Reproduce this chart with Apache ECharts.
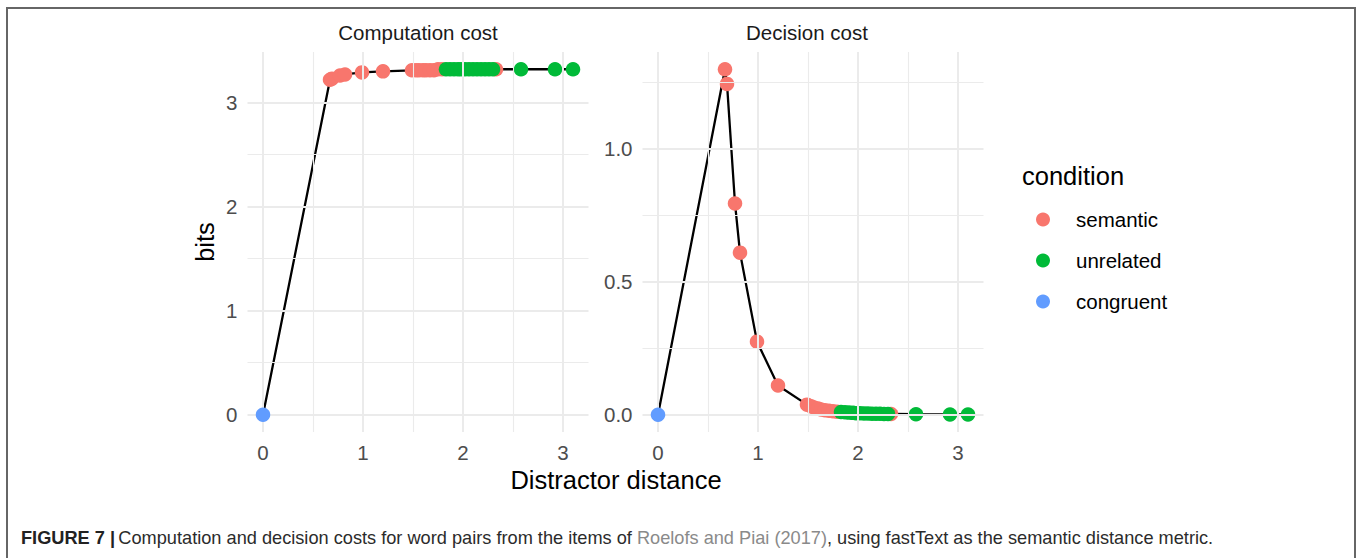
<!DOCTYPE html>
<html>
<head>
<meta charset="utf-8">
<script src="https://cdn.jsdelivr.net/npm/echarts@6.0.0/dist/echarts.min.js"></script>
<style>
  html, body { margin: 0; padding: 0; background: #ffffff; }
  #chart { width: 1358px; height: 558px; }
</style>
</head>
<body>
<div id="chart"></div>
<script>
// Word-pair costs against semantic distractor distance (fastText)
const semanticDist = [0.67, 0.69, 0.77, 0.82, 0.99, 1.20, 1.49, 1.53, 1.56, 1.60, 1.63, 1.67, 1.71, 1.75, 1.79, 2.33];
const semanticComp = [3.22, 3.23, 3.26, 3.27, 3.29, 3.30, 3.31, 3.31, 3.31, 3.31, 3.31, 3.31, 3.31, 3.32, 3.32, 3.32];
const semanticDec  = [1.30, 1.245, 0.795, 0.61, 0.275, 0.11, 0.038, 0.032, 0.027, 0.023, 0.020, 0.017, 0.015, 0.013, 0.011, 0.003];

const unrelatedDist = [1.83, 1.87, 1.91, 1.95, 1.98, 2.02, 2.06, 2.10, 2.14, 2.18, 2.22, 2.26, 2.30, 2.58, 2.92, 3.10];
const unrelatedComp = [3.32, 3.32, 3.32, 3.32, 3.32, 3.32, 3.32, 3.32, 3.32, 3.32, 3.32, 3.32, 3.32, 3.32, 3.32, 3.32];
const unrelatedDec  = [0.010, 0.009, 0.008, 0.007, 0.006, 0.006, 0.005, 0.005, 0.004, 0.004, 0.004, 0.003, 0.003, 0.002, 0.001, 0.001];

const congruentDist = [0];
const congruentComp = [0];
const congruentDec  = [0];

// Axis breaks
const xBreaks = [0, 1, 2, 3];
const xMinor = [0.5, 1.5, 2.5];
const compBreaks = [0, 1, 2, 3];
const compMinor = [0.5, 1.5, 2.5];
const decBreaks = [0, 0.5, 1.0];
const decMinor = [0.25, 0.75, 1.25];

const panelTitles = ['Computation cost', 'Decision cost'];
const conditions = ['semantic', 'unrelated', 'congruent'];
const conditionColors = ['#F8766D', '#00BA38', '#619CFF'];

const groups = [
  { dist: semanticDist, comp: semanticComp, dec: semanticDec },
  { dist: unrelatedDist, comp: unrelatedComp, dec: unrelatedDec },
  { dist: congruentDist, comp: congruentComp, dec: congruentDec }
];

function pairs(xs, ys) { return xs.map((x, i) => [x, ys[i]]); }

// All word pairs sorted by distance, for the connecting line
function sortedLine(key) {
  const all = [];
  groups.forEach(g => g.dist.forEach((d, i) => all.push([d, g[key][i]])));
  all.sort((a, b) => a[0] - b[0]);
  return all;
}

const GRID_COLOR = '#EBEBEB';
const TICK_COLOR = '#4D4D4D';
const FONT = 'Liberation Sans, Arial, Helvetica, sans-serif';

function gridLines(xMaj, xMin, yMaj, yMin) {
  const d = [];
  xMin.forEach(v => d.push({ xAxis: v, lineStyle: { width: 1.1 } }));
  yMin.forEach(v => d.push({ yAxis: v, lineStyle: { width: 1.1 } }));
  xMaj.forEach(v => d.push({ xAxis: v, lineStyle: { width: 2 } }));
  yMaj.forEach(v => d.push({ yAxis: v, lineStyle: { width: 2 } }));
  return {
    silent: true,
    symbol: ['none', 'none'],
    label: { show: false },
    animation: false,
    lineStyle: { color: GRID_COLOR, type: 'solid' },
    emphasis: { disabled: true },
    data: d
  };
}

const panels = [
  { key: 'comp', yMin: -0.166, yMax: 3.486, breaks: compBreaks, minor: compMinor, fmt: v => String(v) },
  { key: 'dec', yMin: -0.065, yMax: 1.365, breaks: decBreaks, minor: decMinor, fmt: v => Number(v).toFixed(1) }
];

const gridLeft = [247.5, 642.5];

const option = {
  backgroundColor: '#ffffff',
  animation: false,
  textStyle: { fontFamily: FONT },
  grid: panels.map((p, i) => ({ left: gridLeft[i], top: 52, width: 341, height: 380, containLabel: false })),
  xAxis: panels.map((p, i) => ({
    type: 'value', gridIndex: i, min: -0.155, max: 3.255,
    axisLine: { show: false }, axisTick: { show: false }, splitLine: { show: false },
    axisLabel: { customValues: xBreaks, color: TICK_COLOR, fontSize: 20.5, margin: 10, fontFamily: FONT }
  })),
  yAxis: panels.map((p, i) => ({
    type: 'value', gridIndex: i, min: p.yMin, max: p.yMax,
    axisLine: { show: false }, axisTick: { show: false }, splitLine: { show: false },
    axisLabel: { customValues: p.breaks, formatter: p.fmt, color: TICK_COLOR, fontSize: 20.5, margin: 10, fontFamily: FONT }
  })),
  legend: {
    orient: 'vertical',
    left: 1031, top: 204,
    icon: 'circle',
    itemWidth: 14, itemHeight: 14,
    itemGap: 20,
    data: conditions,
    selectedMode: false,
    textStyle: { fontSize: 20.5, color: '#000000', fontFamily: FONT, padding: [0, 0, 0, 21], lineHeight: 20 }
  },
  series: []
};

panels.forEach((p, i) => {
  // Panel gridlines (major and minor)
  option.series.push({
    type: 'scatter', xAxisIndex: i, yAxisIndex: i, data: [], z: 1, silent: true,
    markLine: gridLines(xBreaks, xMinor, p.breaks, p.minor)
  });
  // Connecting line through all word pairs
  option.series.push({
    type: 'line', xAxisIndex: i, yAxisIndex: i, z: 2,
    data: sortedLine(p.key), showSymbol: false, symbol: 'none', silent: true,
    lineStyle: { color: '#000000', width: 2.3 }
  });
  // Points coloured by condition
  groups.forEach((g, k) => {
    option.series.push({
      name: conditions[k], type: 'scatter', xAxisIndex: i, yAxisIndex: i, z: 3 + k,
      data: pairs(g.dist, g[p.key]),
      symbolSize: 14.5,
      itemStyle: { color: conditionColors[k], opacity: 1, borderWidth: 0, borderColor: conditionColors[k] },
      emphasis: { disabled: true }
    });
  });
});

option.graphic = [
  // Figure frame
  { type: 'rect', shape: { x: 7, y: 8, width: 1348, height: 600 },
    style: { fill: 'none', stroke: '#666666', lineWidth: 2 }, silent: true },
  // Facet strip titles
  { type: 'text', x: 418, y: 32, style: { text: panelTitles[0], fontSize: 20.5, fill: '#1A1A1A', align: 'center', verticalAlign: 'middle', fontFamily: FONT } },
  { type: 'text', x: 807, y: 32, style: { text: panelTitles[1], fontSize: 20.5, fill: '#1A1A1A', align: 'center', verticalAlign: 'middle', fontFamily: FONT } },
  // Axis titles
  { type: 'text', x: 616, y: 480, style: { text: 'Distractor distance', fontSize: 25.5, fill: '#000000', align: 'center', verticalAlign: 'middle', fontFamily: FONT } },
  { type: 'text', x: 205, y: 242, rotation: Math.PI / 2, style: { text: 'bits', fontSize: 25.5, fill: '#000000', align: 'center', verticalAlign: 'middle', fontFamily: FONT } },
  // Legend title
  { type: 'text', x: 1022, y: 176, style: { text: 'condition', fontSize: 25.5, fill: '#000000', align: 'left', verticalAlign: 'middle', fontFamily: FONT } },
  // Caption
  { type: 'text', x: 21, y: 538, style: {
      text: '{b|FIGURE 7 |} {n|Computation and decision costs for word pairs from the items of }{l|Roelofs and Piai (2017)}{n|, using fastText as the semantic distance metric.}',
      verticalAlign: 'middle', align: 'left',
      rich: {
        b: { fontSize: 18.2, fontWeight: 'bold', fill: '#222222', fontFamily: FONT },
        n: { fontSize: 18.2, fill: '#2b2b2b', fontFamily: FONT },
        l: { fontSize: 18.2, fill: '#8a8a8a', fontFamily: FONT }
      }
  } }
];

const chart = echarts.init(document.getElementById('chart'), null, { renderer: 'svg' });
chart.setOption(option);
</script>
</body>
</html>
